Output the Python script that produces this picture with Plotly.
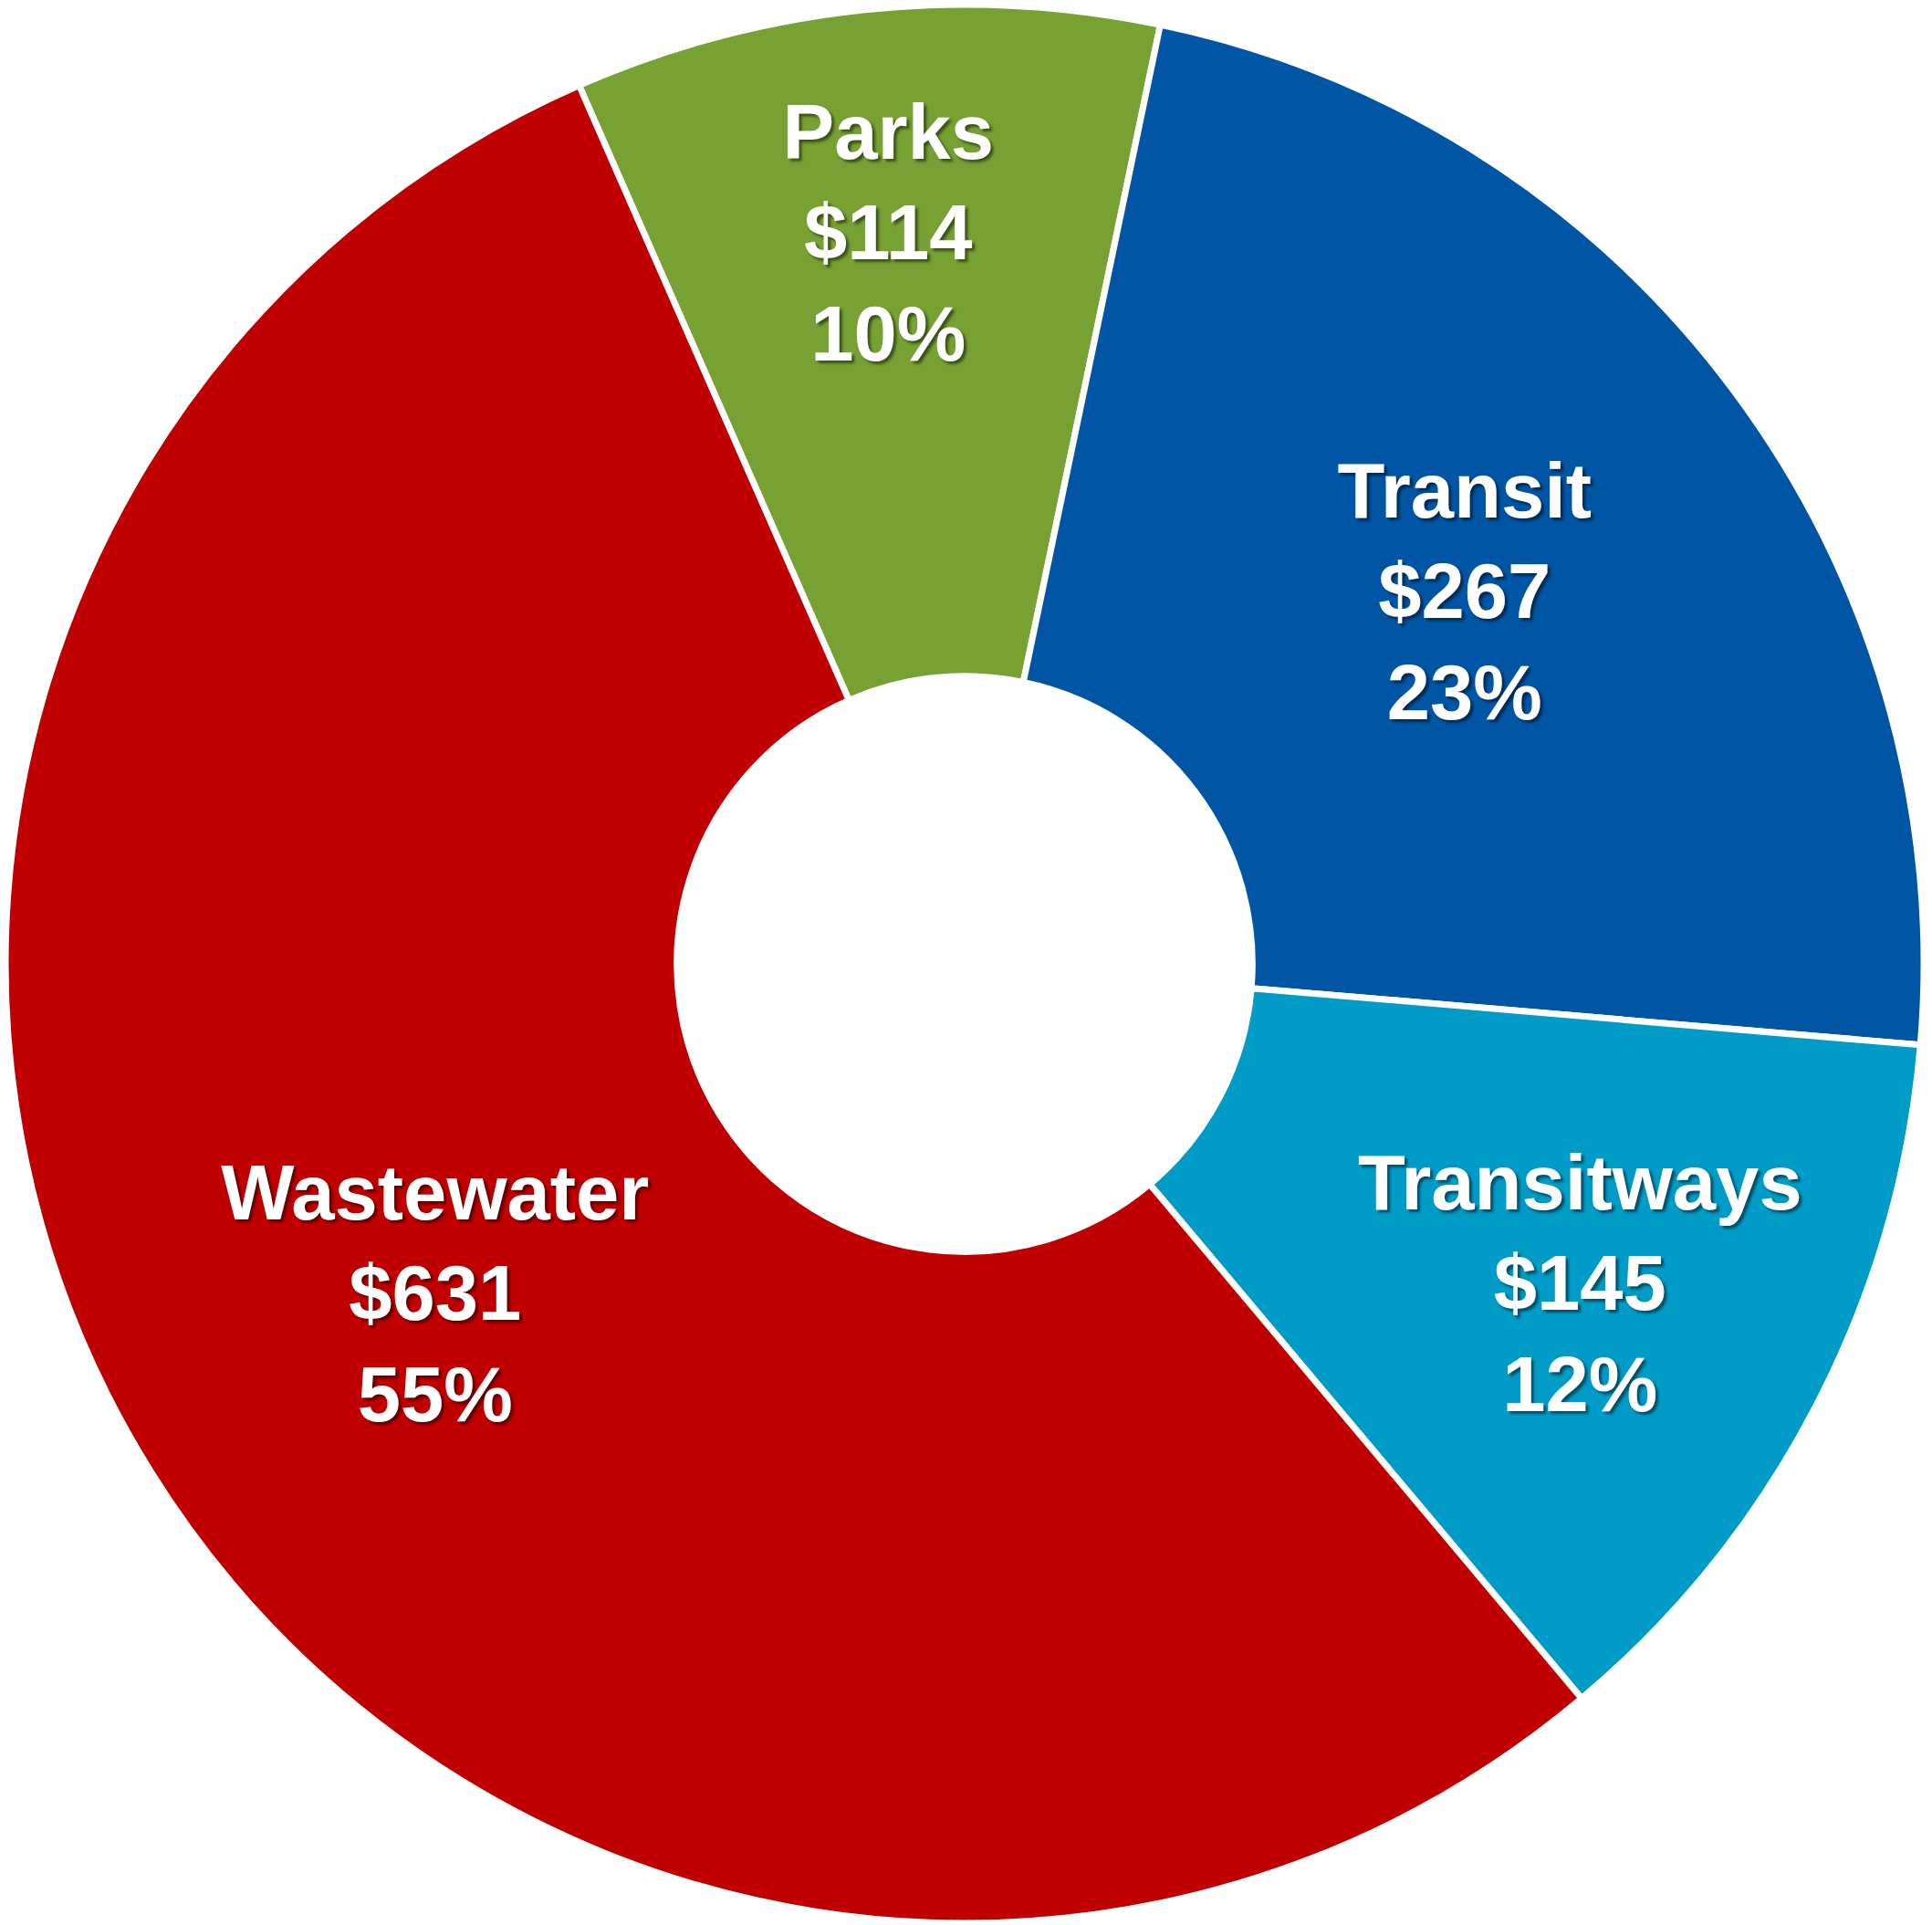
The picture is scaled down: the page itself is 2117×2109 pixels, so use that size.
import plotly.graph_objects as go

# Data
categories = ["Parks", "Transit", "Transitways", "Wastewater"]
values = [114, 267, 145, 631]
percent_labels = ["10%", "23%", "12%", "55%"]  # as printed on the chart
colors = ["#77A132", "#0055A5", "#009CC7", "#C00000"]

fig = go.Figure(
    go.Pie(
        labels=categories,
        values=values,
        customdata=percent_labels,
        hole=0.30,
        sort=False,
        direction="clockwise",
        rotation=-23.7,
        marker=dict(colors=colors, line=dict(color="white", width=7)),
        texttemplate="%{label}<br>$%{value}<br>%{customdata}",
        textposition="inside",
        insidetextorientation="horizontal",
        textfont=dict(
            family="Liberation Sans, Arial, sans-serif",
            size=85,
            color="white",
            weight="bold",
            shadow="3px 3px 3px rgba(0,0,0,0.5)",
        ),
        showlegend=False,
        hoverinfo="label+value+percent",
    )
)

fig.update_layout(
    width=2117,
    height=2109,
    margin=dict(l=6, r=9, t=5, b=2),
    paper_bgcolor="white",
    plot_bgcolor="white",
    uniformtext=dict(minsize=85, mode="show"),
)

fig.write_html("out.html")
